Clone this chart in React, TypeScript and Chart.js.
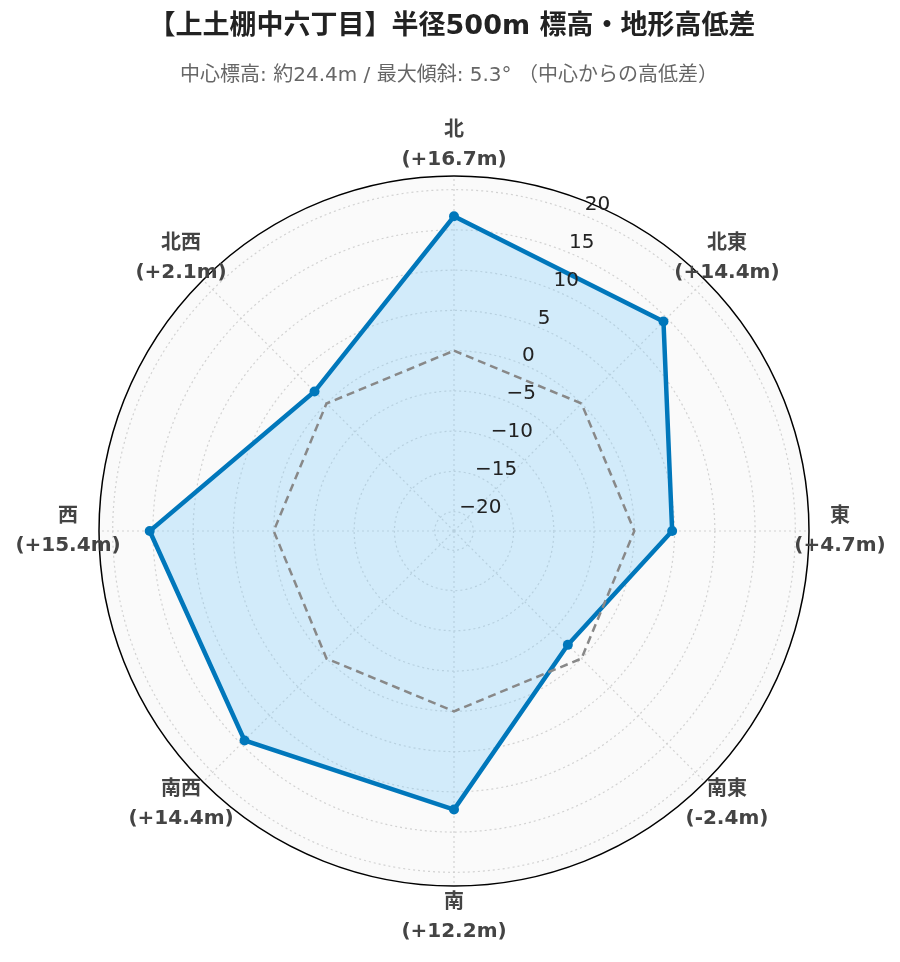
import React, { useEffect, useRef } from "react";
import { Chart, registerables } from "chart.js";

Chart.register(...registerables);

// ---- Data ----
const directions = ["北", "北東", "東", "南東", "南", "南西", "西", "北西"];
const elevationDiffs = [16.7, 14.4, 4.7, -2.4, 12.2, 14.4, 15.4, 2.1];
const referenceLevel = [0, 0, 0, 0, 0, 0, 0, 0];
const tickValues = [-20, -15, -10, -5, 0, 5, 10, 15, 20];
const axisMin = -22.4;
const axisMax = 21.7;
const titleText = "【上土棚中六丁目】半径500m 標高・地形高低差";
const subtitleText = "中心標高: 約24.4m / 最大傾斜: 5.3° （中心からの高低差）";

const fmtDiff = (v: number) => `(${v >= 0 ? "+" : ""}${v.toFixed(1)}m)`;
const fmtTick = (v: number) => (v < 0 ? "\u2212" + Math.abs(v) : String(v));

const overlayPlugin = {
  id: "overlayText",
  afterDraw(chart: any) {
    const ctx = chart.ctx as CanvasRenderingContext2D;
    const scale = chart.scales.r;
    ctx.save();
    ctx.textAlign = "center";
    ctx.textBaseline = "middle";
    // Title
    ctx.fillStyle = "#222";
    ctx.font = 'bold 27px "DejaVu Sans", "Noto Sans CJK JP", sans-serif';
    ctx.fillText(titleText, 452, 27);
    // Subtitle
    ctx.fillStyle = "#666";
    ctx.font = '20px "DejaVu Sans", "Noto Sans CJK JP", sans-serif';
    ctx.fillText(subtitleText, 449, 76);

    // Point labels
    ctx.fillStyle = "#444";
    ctx.font = 'bold 20px "DejaVu Sans", "Noto Sans CJK JP", sans-serif';
    directions.forEach((d, i) => {
      const p = scale.getPointPosition(i, scale.drawingArea + 31);
      ctx.fillText(d, p.x, p.y - 14.5);
      ctx.fillText(fmtDiff(elevationDiffs[i]), p.x, p.y + 14.5);
    });

    // Radial tick labels along 22.5° axis
    const ang = (22.5 * Math.PI) / 180;
    const ax = Math.sin(ang), ay = -Math.cos(ang);
    const px = Math.cos(ang), py = Math.sin(ang);
    ctx.fillStyle = "#222";
    ctx.font = '20px "DejaVu Sans", sans-serif';
    ctx.textAlign = "left";
    tickValues.forEach((v) => {
      const r = scale.getDistanceFromCenterForValue(v);
      const along = r * 1.018 + 4;
      const perp = -4;
      const x = scale.xCenter + ax * along + px * perp;
      const y = scale.yCenter + ay * along + py * perp;
      ctx.fillText(fmtTick(v), x, y);
    });
    ctx.restore();
  },
};

export default function App() {
  const canvasRef = useRef<HTMLCanvasElement | null>(null);

  useEffect(() => {
    if (!canvasRef.current) return;
    const chart = new Chart(canvasRef.current, {
      type: "radar",
      data: {
        labels: directions,
        datasets: [
          {
            label: "基準 (0m)",
            data: referenceLevel,
            borderColor: "#888888",
            borderWidth: 2.5,
            borderDash: [8, 5],
            pointRadius: 0,
            fill: false,
          },
          {
            label: "高低差",
            data: elevationDiffs,
            borderColor: "#0077bb",
            backgroundColor: "rgba(135,206,250,0.35)",
            borderWidth: 4.5,
            pointRadius: 5,
            pointBorderWidth: 0,
            pointBackgroundColor: "#0077bb",
            fill: "start",
          },
        ],
      },
      options: {
        animation: false,
        responsive: false,
        maintainAspectRatio: false,
        layout: { padding: { left: 99, right: 91, top: 176, bottom: 76 } },
        plugins: {
          legend: { display: false },
          tooltip: { enabled: false },
          title: { display: false },
        },
        scales: {
          r: {
            min: axisMin,
            max: axisMax,
            startAngle: 0,
            backgroundColor: "#fafafa",
            afterBuildTicks: (s: any) => {
              s.ticks = [...tickValues, axisMax].map((v) => ({ value: v }));
            },
            ticks: { display: false },
            pointLabels: { display: false },
            grid: {
              circular: true,
              color: (c: any) => (c.tick && c.tick.value === axisMax ? "#000000" : "#d2d2d2"),
              lineWidth: (c: any) => (c.tick && c.tick.value === axisMax ? 1.5 : 1.2),
            },
            border: {
              dash: (c: any) => (c.tick && c.tick.value === axisMax ? [] : [2, 3]),
            },
            angleLines: { color: "#d2d2d2", lineWidth: 1.2, borderDash: [2, 3] },
          },
        },
      } as any,
      plugins: [overlayPlugin],
    });
    return () => chart.destroy();
  }, []);

  return (
    <div style={{ position: "fixed", left: 0, top: 0, width: 900, height: 962, background: "#fff" }}>
      <canvas ref={canvasRef} width={900} height={962} />
    </div>
  );
}
